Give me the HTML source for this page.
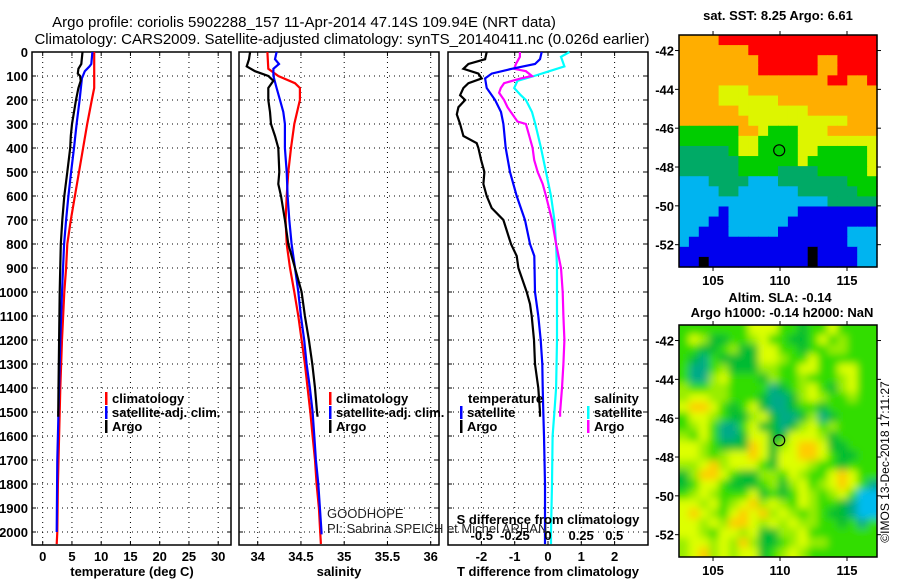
<!DOCTYPE html>
<html><head><meta charset="utf-8"><style>
html,body{margin:0;padding:0;background:#fff;}
svg{display:block;font-family:"Liberation Sans",sans-serif;}
.b{font-weight:bold;font-size:13px;}
</style></head><body>
<svg id="s" width="900" height="580" viewBox="0 0 900 580" xmlns="http://www.w3.org/2000/svg">
<rect width="900" height="580" fill="#fff"/>
<text x="304" y="27" text-anchor="middle" font-size="15">Argo profile: coriolis 5902288_157 11-Apr-2014 47.14S 109.94E (NRT data)</text>
<text x="342" y="44" text-anchor="middle" font-size="15">Climatology: CARS2009. Satellite-adjusted climatology: synTS_20140411.nc (0.026d earlier)</text>
<text x="778" y="20" text-anchor="middle" class="b" font-size="12">sat. SST: 8.25 Argo: 6.61</text>
<text x="780" y="302" text-anchor="middle" class="b">Altim. SLA: -0.14</text>
<text x="782" y="317" text-anchor="middle" class="b">Argo h1000: -0.14 h2000: NaN</text>
<text transform="translate(889,462) rotate(-90)" text-anchor="middle" font-size="12">©IMOS 13-Dec-2018 17:11:27</text>
<g id="g"></g>
</svg>
<script>
// ---- temperature panel data ----
const tClimD=[0,100,150,200,300,400,500,600,700,800,900,1000,1200,1400,1600,1800,2000,2050];
const tClim=[8.8,8.8,8.8,8.4,7.6,6.9,6.2,5.5,4.8,4.2,4.0,3.7,3.3,3.0,2.8,2.6,2.5,2.4];
const tSatD=[0,50,60,80,110,200,300,400,500,600,700,800,1000,1200,1400,1700,2000];
const tSat=[8.5,8.3,8.0,7.2,6.7,6.3,5.8,5.35,4.85,4.4,4.0,3.65,3.3,3.0,2.8,2.5,2.4];
const tArgoD=[0,50,70,90,100,120,150,200,300,350,400,500,600,700,800,1000,1200,1400,1520];
const tArgo=[6.8,6.6,6.1,6.0,6.4,6.5,6.1,5.7,5.0,4.8,4.7,4.2,3.7,3.35,3.1,2.9,2.8,2.7,2.65];
// ---- salinity panel data ----
const sClimD=[0,70,100,130,150,200,300,400,500,600,700,800,900,1000,1100,1200,1300,1400,1500,1600,1700,1800,1900,2000,2050];
const sClim=[34.112,34.123,34.238,34.431,34.488,34.488,34.423,34.385,34.354,34.335,34.323,34.335,34.373,34.423,34.469,34.508,34.546,34.577,34.608,34.635,34.662,34.681,34.708,34.723,34.731];
const sSatD=[0,30,50,70,100,150,200,250,300,400,500,600,700,800,900,1000,1100,1200,1300,1400,1500,1600,1700,1800,1900,2000,2010];
const sSat=[34.219,34.2,34.246,34.181,34.181,34.219,34.258,34.296,34.315,34.315,34.335,34.346,34.365,34.392,34.431,34.469,34.5,34.538,34.565,34.604,34.635,34.654,34.673,34.7,34.719,34.738,34.738];
const sArgoD=[0,30,60,80,100,120,150,200,250,300,350,400,500,550,600,700,800,900,1000,1100,1200,1300,1400,1500,1520];
const sArgo=[33.912,33.9,33.873,33.969,34.123,34.181,34.123,34.123,34.142,34.154,34.2,34.238,34.25,34.238,34.269,34.315,34.354,34.431,34.508,34.546,34.592,34.631,34.662,34.685,34.692];
// ---- difference panel data ----
const dtSatD=[0,30,50,70,90,110,150,200,250,300,400,500,600,700,800,850,1000,1100,1200,1300,1400,1500,1600,1800,2000,2050];
const dtSat=[-0.19,-0.24,-0.39,-1.09,-1.69,-1.89,-1.84,-1.59,-1.41,-1.34,-1.27,-1.14,-0.94,-0.69,-0.54,-0.41,-0.39,-0.29,-0.22,-0.17,-0.16,-0.14,-0.12,-0.09,-0.09,-0.09];
const dtArgoD=[0,30,50,70,90,110,130,150,180,200,230,260,300,350,380,400,450,500,550,600,650,700,800,850,900,1000,1050,1100,1200,1300,1400,1500,1520];
const dtArgo=[-1.84,-1.89,-2.39,-2.54,-2.09,-1.99,-2.39,-2.54,-2.64,-2.49,-2.69,-2.74,-2.64,-2.54,-2.14,-2.09,-2.01,-1.91,-1.94,-1.84,-1.69,-1.34,-1.11,-0.94,-0.89,-0.64,-0.54,-0.49,-0.42,-0.39,-0.29,-0.24,-0.24];
const dsSatD=[0,20,40,60,80,100,120,150,180,200,250,300,400,500,600,700,800,900,1000,1200,1400,1500,1600,1800,2000,2050];
const dsSat=[0.162,0.098,0.111,0.124,0.01,-0.104,-0.23,-0.255,-0.205,-0.167,-0.121,-0.096,-0.053,-0.015,0.023,0.048,0.061,0.068,0.068,0.068,0.061,0.048,0.035,0.03,0.023,0.023];
const dsArgoD=[0,20,50,70,80,100,110,130,150,170,200,230,260,290,300,350,400,450,500,550,600,700,800,900,1000,1100,1200,1300,1400,1500,1520];
const dsArgo=[-0.212,-0.212,-0.242,-0.255,-0.167,-0.121,-0.205,-0.331,-0.356,-0.369,-0.331,-0.306,-0.268,-0.23,-0.167,-0.141,-0.116,-0.104,-0.078,-0.04,-0.015,0.03,0.061,0.098,0.111,0.116,0.124,0.116,0.106,0.091,0.091];
// ---- tick labels ----
const depthTicks=[0,100,200,300,400,500,600,700,800,900,1000,1100,1200,1300,1400,1500,1600,1700,1800,1900,2000];
const tTicks=[0,5,10,15,20,25,30];
const sTicks=["34","34.5","35","35.5","36"];
const dtTicks=["-2","-1","0","1","2"];
const dsTicks=["-0.5","-0.25","0","0.25","0.5"];
const lonTicks=[105,110,115];
const latTicks=[-42,-44,-46,-48,-50,-52];
// ---- map data ----
const argoLon=109.94, argoLat=-47.14;
const sstRows=["OOOORRRRRRRRRRRRRRRR","OOOOOOORRRRRRRRRRRRR","OOOOOOOORRRRRROORRRR","OOOOOOOORRRRRROORRRR","OOOOOOOOOOOOOOORROOR","OOOOYYYOOOOOOOOOOOOO","OOOOYYYYYYOOOOOOOOOO","OOOOOOYYYYYYYOOOOOOO","OOOOOOOYYYYYYYYYYOOO","GGGGGGOOYGGGYYYOOOOO","GGGGGGYYGGGGYYYYYYYY","TTTTTGYYGGGGYYGGGGGY","TTTTTTGGGGGGYGGGGGGY","TTTTTTGGGGTTTTGGGGGY","CCCTTTTCCCTTTTTTTGGG","CCCCTTCCCCCCTTTTTTGG","CCCCCCCCCCCCCCCTTTTT","CCCCBCCCCCCCBBBBBBBB","CCCBBCCCCCCBBBBBBBBB","CCBBBCCCCCBBBBBBBCCC","CBBBBBBBBBBBBBBBBCCC","BBBBBBBBBBBBBKBBBBCC","BBKBBBBBBBBBBKBBBBCC"];
const slaRows=["GGGGGGGYYYGGDGGYGGGG","GYLDDGGLYGGDDGYGLGGG","GGDDGLDDYYGGDGGLLGGG","GDTGDDDDYYLGGYGGGGGG","GTTGLDDDLLGGYYGGYYGG","GTTLYGGGDLGGLGGGLYGG","LGGLLGGGGTDGLYGDLYGG","LYYLLGGGDTTDLYLGGLGG","YOOYGDGYDTTDGGDGGGGG","GYYLGDDLYDTTDLTDGGGG","GLYGTTGYDDTDLYGLGGGG","LGYGTTDYYDDYYYLDGGGG","YYLGDDDOYDLYOOYDDGGG","YYLGLYYOYDYYOOYGDDGG","LLYOLYYYGDYYYLGGDGGG","DLOOYGDDLLGYLGGYOYGG","DGYYGDDDGLDLYGLYOYGT","GLYLGGGYDGDGYLGLYGBB","YYLYGLYOLYLGYLGGDTBB","YOYLGYOYOLYLGLGDDTBB","YYLYLOOYLYLYLLGGDGTG","YYLGYYLYDDLLYGGGGGGG","LYYLYLOLDDGLYLLGGGGG","LYOLYLYYDGLYLGGGGGGG"];

const NS="http://www.w3.org/2000/svg";
const G=document.getElementById('g');
function el(t,a,p){const e=document.createElementNS(NS,t);for(const k in a)e.setAttribute(k,a[k]);(p||G).appendChild(e);return e;}
function txt(x,y,s,a){const e=el('text',Object.assign({x:x,y:y},a||{}));e.textContent=s;return e;}
const yD=d=>52+d*0.24;
const Y0=52,Y1=545;
const panels=[
 {name:'temperature',x0:32,x1:231,f:v=>42.7+v*5.85},
 {name:'salinity',x0:239,x1:439,f:v=>257.7+(v-34)*86.5},
 {name:'difference',x0:448,x1:648,f:v=>548+v*33.3}
];
const fs=v=>548+v*132.5;
panels.forEach((p,i)=>{
 const gp=el('g',{});
 
 
 depthTicks.forEach(d=>{
  const l=el('line',{x1:p.x0,x2:p.x1,y1:yD(d),y2:yD(d),stroke:'#000','stroke-width':1,'stroke-dasharray':'1,4'},gp);
  
  
  el('line',{x1:p.x0,x2:p.x0+4,y1:yD(d),y2:yD(d),stroke:'#000'},gp);
  el('line',{x1:p.x1-4,x2:p.x1,y1:yD(d),y2:yD(d),stroke:'#000'},gp);
 });
 let xs=[];
 if(i==0) xs=tTicks.map(v=>[p.f(v),String(v)]);
 if(i==1) xs=sTicks.map(v=>[p.f(parseFloat(v)),v]);
 if(i==2) xs=dtTicks.map(v=>[p.f(parseFloat(v)),v]);
 xs.forEach(([x,s])=>{
  const l=el('line',{x1:x,x2:x,y1:Y0,y2:Y1,stroke:'#000','stroke-dasharray':'1,4'},gp);
  
  
  el('line',{x1:x,x2:x,y1:Y1-4,y2:Y1,stroke:'#000'},gp);
  el('line',{x1:x,x2:x,y1:Y0,y2:Y0+4,stroke:'#000'},gp);
  const t=txt(x,561,s,{'text-anchor':'middle',class:'b'});
  
  
 });
 const r=el('rect',{x:p.x0,y:Y0,width:p.x1-p.x0,height:Y1-Y0,fill:'none',stroke:'#000','stroke-width':1.5},gp);
 
 
});
depthTicks.forEach(d=>{
 const t=txt(28,yD(d)+5,String(d),{'text-anchor':'end',class:'b'});
 
 
});
[['temperature (deg C)',132],['salinity',339],['T difference from climatology',548]].forEach(([s,x])=>{
 const t=txt(x,576,s,{'text-anchor':'middle',class:'b'});
 
 
});
function line(D,V,f,col,name){
 const pts=D.map((d,i)=>f(V[i]).toFixed(1)+','+yD(d).toFixed(1)).join(' ');
 const e=el('polyline',{points:pts,fill:'none',stroke:col,'stroke-width':2.2});
 
 
}
const P=panels;
line(tClimD,tClim,P[0].f,'#f00','temp-climatology-line');
line(tSatD,tSat,P[0].f,'#00f','temp-satellite-line');
line(tArgoD,tArgo,P[0].f,'#000','temp-argo-line');
line(sClimD,sClim,P[1].f,'#f00','salinity-climatology-line');
line(sSatD,sSat,P[1].f,'#00f','salinity-satellite-line');
line(sArgoD,sArgo,P[1].f,'#000','salinity-argo-line');
line(dsSatD,dsSat,fs,'#0ff','sdiff-satellite-line');
line(dsArgoD,dsArgo,fs,'#f0f','sdiff-argo-line');
line(dtSatD,dtSat,P[2].f,'#00f','tdiff-satellite-line');
line(dtArgoD,dtArgo,P[2].f,'#000','tdiff-argo-line');
function leg(x,y,col,s,name){
 const g=el('g',{});
 
 
 el('rect',{x:x,y:y-6,width:2.5,height:13,fill:col},g);
 const t=txt(x+7,y+5,s,{class:'b',fill:'#000'});g.appendChild(t);
}
leg(105,398,'#f00','climatology','legend-climatology');
leg(105,412,'#00f','satellite-adj. clim.','legend-satellite');
leg(105,426,'#000','Argo','legend-argo');
leg(329,398,'#f00','climatology','legend-climatology-2');
leg(329,412,'#00f','satellite-adj. clim.','legend-satellite-2');
leg(329,426,'#000','Argo','legend-argo-2');
let tt=txt(468,403,'temperature',{class:'b'});
tt=txt(594,403,'salinity',{class:'b'});
leg(460,412,'#00f','satellite','legend-t-satellite');
leg(460,426,'#000','Argo','legend-t-argo');
leg(587,412,'#0ff','satellite','legend-s-satellite');
leg(587,426,'#f0f','Argo','legend-s-argo');
tt=txt(548,524,'S difference from climatology',{'text-anchor':'middle',class:'b'});

dsTicks.forEach(s=>{const t=txt(fs(parseFloat(s)),540,s,{'text-anchor':'middle',class:'b'});
 });
tt=txt(327,518,'GOODHOPE',{'font-size':13,fill:'#222'});

tt=txt(327,533,'PI: Sabrina SPEICH et Michel ARHAN',{'font-size':13,fill:'#222'});

const MX0=679,MX1=877,lon0=102.46,lon1=117.24,lat0=-41.2,lat1=-53.15;
const sstCol={R:'#ff0000',O:'#ffae00',Y:'#ddf500',G:'#00cc00',T:'#00aa66',C:'#00b4f0',B:'#0000ee',K:'#000000'};
const slaCol={G:'#33dd00',D:'#00bb33',T:'#00aa88',L:'#99ee00',Y:'#ddff00',O:'#ffcc00',B:'#00bbee'};
const defs=el('defs',{});
const cp1=el('clipPath',{id:'c2'},defs);el('rect',{x:MX0,y:325,width:MX1-MX0,height:232},cp1);
const fl=el('filter',{id:'bl',x:'-10%',y:'-10%',width:'120%',height:'120%'},defs);el('feGaussianBlur',{stdDeviation:4},fl);
function map(rows,cols,Yt,Yb,name,blur){
 const g=el('g',{});
 
 
 const inner=el('g',blur?{'clip-path':'url(#c2)'}:{},g);
 const cells=el('g',blur?{filter:'url(#bl)'}:{},inner);
 const nr=rows.length,nc=rows[0].length,cw=(MX1-MX0)/nc,ch=(Yb-Yt)/nr;
 const pad=blur?12:0;
 rows.forEach((r,i)=>{for(let j=0;j<nc;j++){
  let x=MX0+j*cw,y=Yt+i*ch,w=cw+0.6,h=ch+0.6;
  if(blur){if(j==0){x-=pad;w+=pad;}if(j==nc-1)w+=pad;if(i==0){y-=pad;h+=pad;}if(i==nr-1)h+=pad;}
  const c=el('rect',{x:x,y:y,width:w,height:h,fill:cols[r[j]]},cells);
  
  
 }});
 const ly=v=>Yt+(v-lat0)/(lat1-lat0)*(Yb-Yt);
 const lx=v=>MX0+(v-lon0)/(lon1-lon0)*(MX1-MX0);
 const m=el('circle',{cx:lx(argoLon),cy:ly(argoLat),r:5.5,fill:'none',stroke:'#000','stroke-width':1.2},g);
 
 
 el('rect',{x:MX0,y:Yt,width:MX1-MX0,height:Yb-Yt,fill:'none',stroke:'#000','stroke-width':1.5},g);
 latTicks.forEach(v=>{const y=ly(v);
  el('line',{x1:MX0-4,x2:MX0,y1:y,y2:y,stroke:'#000'},g);el('line',{x1:MX1,x2:MX1+4,y1:y,y2:y,stroke:'#000'},g);
  const t=txt(674,y+5,String(v),{'text-anchor':'end',class:'b'});g.appendChild(t);
  });
 lonTicks.forEach(v=>{const x=lx(v);
  el('line',{x1:x,x2:x,y1:Yt-4,y2:Yt,stroke:'#000'},g);el('line',{x1:x,x2:x,y1:Yb,y2:Yb+4,stroke:'#000'},g);
  const t=txt(x,Yb+18,String(v),{'text-anchor':'middle',class:'b'});g.appendChild(t);
  });
}
map(sstRows,sstCol,35,267,'sst-map',false);
map(slaRows,slaCol,325,557,'sla-map',true);
</script>
</body></html>
